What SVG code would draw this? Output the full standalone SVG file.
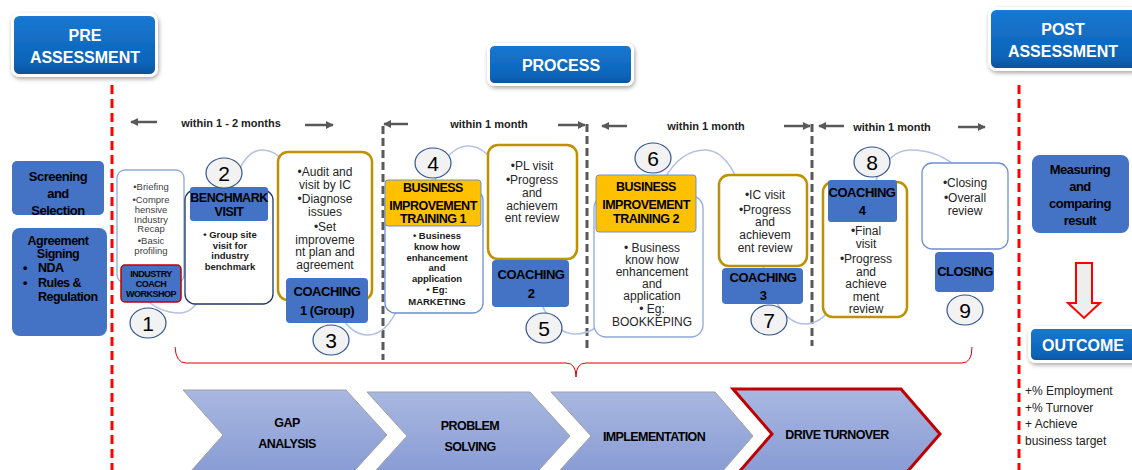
<svg xmlns="http://www.w3.org/2000/svg" width="1132" height="470" viewBox="0 0 1132 470">
<defs>
<linearGradient id="hdr" x1="0" y1="0" x2="0" y2="1"><stop offset="0" stop-color="#1B78D2"/><stop offset="0.8" stop-color="#0B64B8"/><stop offset="1" stop-color="#0A4F96"/></linearGradient>
<linearGradient id="chev" x1="0" y1="0" x2="0" y2="1"><stop offset="0" stop-color="#A9B8E1"/><stop offset="1" stop-color="#8599D3"/></linearGradient>
<filter id="sh" x="-10%" y="-10%" width="130%" height="140%"><feDropShadow dx="1" dy="2" stdDeviation="2" flood-color="#000" flood-opacity="0.35"/></filter>
<marker id="ah" viewBox="0 0 10 10" refX="9" refY="5" markerWidth="3.2" markerHeight="3.2" orient="auto"><path d="M0,0 L10,5 L0,10 Z" fill="#595959"/></marker>
<style>
text{font-family:"Liberation Sans",Arial,sans-serif;text-anchor:middle}
.hd{fill:#fff;font-size:16px;font-weight:bold}
.hbox{fill:url(#hdr);stroke:#fff;stroke-width:3}
.blue{fill:#4472C4}
.bt{font-weight:bold;fill:#000;letter-spacing:-0.5px}
.wt{fill:#fff;stroke:#8EA9DB;stroke-width:1.3}
.gold{fill:#fff;stroke:#BF9000;stroke-width:2.5}
.gh{fill:#FFC000;stroke:#6F8FCF;stroke-width:1}
.tx{fill:#262626;font-size:12px}
.sm{fill:#404040;font-size:9.5px}
.b9{fill:#1a1a1a;font-size:9.5px;font-weight:bold}
.num{fill:#F2F2F2;stroke:#2F528F;stroke-width:1.2}
.nt{font-size:21px;fill:#000}
.mo{font-size:11px;font-weight:bold;fill:#222}
.ar{stroke:#595959;stroke-width:2.5;fill:none;marker-end:url(#ah)}
.gd{stroke:#595959;stroke-width:3;stroke-dasharray:8 4;fill:none}
.rd{stroke:#FF0000;stroke-width:3;stroke-dasharray:9 5;fill:none}
.ch{fill:url(#chev);stroke:#A0A0A0;stroke-width:1}
.chr{fill:url(#chev);stroke:#C00000;stroke-width:3}
.ct{font-size:12.5px;font-weight:bold;fill:#000;letter-spacing:-0.6px}
</style>
</defs>
<rect width="1132" height="470" fill="#fff"/>

<g id="headers">
<g id="pre"><rect class="hbox" x="12.5" y="14.5" width="144" height="61" rx="7" filter="url(#sh)"/><text class="hd" x="85" y="41">PRE</text><text class="hd" x="85" y="63">ASSESSMENT</text></g>
<g id="process"><rect class="hbox" x="488.5" y="44.5" width="144" height="40" rx="6" filter="url(#sh)"/><text class="hd" x="561" y="71">PROCESS</text></g>
<g id="post"><rect class="hbox" x="989.5" y="8.5" width="150" height="61" rx="7" filter="url(#sh)"/><text class="hd" x="1063" y="35">POST</text><text class="hd" x="1063" y="57">ASSESSMENT</text></g>
</g>

<g id="connectors">
<line class="rd" x1="112" y1="85" x2="112" y2="470"/>
<line class="rd" x1="1019" y1="85" x2="1019" y2="470"/>
<line class="gd" x1="383" y1="126" x2="383" y2="360"/>
<line class="gd" x1="587" y1="124" x2="587" y2="348"/>
<line class="gd" x1="812" y1="124" x2="812" y2="346"/>
<line class="ar" x1="157" y1="122" x2="131" y2="122"/>
<line class="ar" x1="305" y1="125" x2="333" y2="125"/>
<line class="ar" x1="408" y1="124" x2="384" y2="124"/>
<line class="ar" x1="558" y1="125" x2="585" y2="125"/>
<line class="ar" x1="627" y1="126" x2="602" y2="126"/>
<line class="ar" x1="784" y1="126" x2="810" y2="126"/>
<line class="ar" x1="844" y1="126" x2="819" y2="126"/>
<line class="ar" x1="958" y1="127" x2="985" y2="127"/>
<path d="M140,295 C155,308 165,313 180,313 C225,313 217,150 262,150 C320,150 310,335 368,335 C423,335 413,146 468,146 C527,146 516,334 575,334 C647,334 633,150 705,150 C760,150 750,324 805,324 C863,324 852,150 910,150 C935,150 950,160 960,170" fill="none" stroke="#B4C2E6" stroke-width="1.6"/>
<path d="M175,347 Q176,363 186,363 L566,363 Q576,363 576,377 Q576,363 586,363 L962,363 Q972,363 972,347" fill="none" stroke="#E00000" stroke-width="1"/>
<path d="M1076,263 L1092,263 L1092,303 L1100,303 L1084,318 L1068,303 L1076,303 Z" fill="#EEEEEE" stroke="#FF0000" stroke-width="2"/>
</g>

<g id="timelabels">
<text class="mo" x="231" y="127">within 1 - 2 months</text>
<text class="mo" x="489" y="128">within 1 month</text>
<text class="mo" x="706" y="130">within 1 month</text>
<text class="mo" x="892" y="131">within 1 month</text>
</g>

<g id="screening"><rect class="blue" x="12" y="161" width="92" height="54" rx="5"/>
<text class="bt" font-size="13" x="58" y="181">Screening</text><text class="bt" font-size="13" x="58" y="198">and</text><text class="bt" font-size="13" x="58" y="215">Selection</text></g>
<g id="agreement"><rect class="blue" x="12" y="228" width="95" height="108" rx="8"/>
<text class="bt" font-size="12.5" x="58" y="245">Agreement</text><text class="bt" font-size="12.5" x="58" y="258">Signing</text>
<text class="bt" font-size="12.5" x="25" y="272">•</text><text class="bt" font-size="12.5" x="38" y="272" style="text-anchor:start">NDA</text>
<text class="bt" font-size="12.5" x="25" y="287">•</text><text class="bt" font-size="12.5" x="38" y="287" style="text-anchor:start">Rules &amp;</text>
<text class="bt" font-size="12.5" x="38" y="301" style="text-anchor:start">Regulation</text></g>

<g id="node1"><rect class="wt" x="117" y="170" width="67" height="113" rx="8"/>
<text class="sm" x="151" y="190">•Briefing</text><text class="sm" x="151" y="203">•Compre</text><text class="sm" x="151" y="213">hensive</text><text class="sm" x="151" y="223">Industry</text><text class="sm" x="151" y="232">Recap</text><text class="sm" x="151" y="244">•Basic</text><text class="sm" x="151" y="254">profiling</text>
<rect x="121" y="265" width="60" height="37" rx="4" fill="#4472C4" stroke="#C00000" stroke-width="1.5"/>
<text class="bt" font-size="9" x="151" y="277">INDUSTRY</text><text class="bt" font-size="9" x="151" y="287">COACH</text><text class="bt" font-size="9" x="151" y="297">WORKSHOP</text></g>

<g id="node2"><rect x="185" y="190" width="88" height="114" rx="10" fill="#fff" stroke="#1F3864" stroke-width="1.3"/>
<rect class="blue" x="190" y="187" width="78" height="34" rx="3"/>
<text class="bt" font-size="12.5" x="229" y="202">BENCHMARK</text><text class="bt" font-size="12.5" x="229" y="216">VISIT</text>
<text class="b9" font-size="10" x="230" y="238">• Group site</text><text class="b9" x="230" y="249">visit for</text><text class="b9" x="230" y="259">industry</text><text class="b9" x="230" y="270">benchmark</text></g>

<g id="node3"><rect class="gold" x="278" y="152" width="94" height="148" rx="10"/>
<text class="tx" x="325" y="176">•Audit and</text><text class="tx" x="325" y="189">visit by IC</text><text class="tx" x="325" y="203">•Diagnose</text><text class="tx" x="325" y="216">issues</text><text class="tx" x="325" y="231">•Set</text><text class="tx" x="325" y="244">improveme</text><text class="tx" x="325" y="256">nt plan and</text><text class="tx" x="325" y="269">agreement</text>
<rect class="blue" x="286" y="278" width="82" height="45" rx="4"/>
<text class="bt" font-size="13" x="327" y="296">COACHING</text><text class="bt" font-size="13" x="327" y="315">1 (Group)</text></g>

<g id="node4"><rect class="wt" x="385" y="190" width="98" height="123" rx="10" style="stroke:#6F8FCF"/>
<rect class="gh" x="385" y="180" width="96" height="46" rx="3"/>
<text class="bt" font-size="12.5" x="433" y="192">BUSINESS</text><text class="bt" font-size="12.5" x="433" y="210">IMPROVEMENT</text><text class="bt" font-size="12.5" x="433" y="223">TRAINING 1</text>
<text class="b9" x="437" y="239">•  Business</text><text class="b9" x="437" y="250">know how</text><text class="b9" x="437" y="261">enhancement</text><text class="b9" x="437" y="271">and</text><text class="b9" x="437" y="282">application</text><text class="b9" x="437" y="293">• Eg:</text><text class="b9" x="437" y="305">MARKETING</text></g>

<g id="node5"><rect class="gold" x="488" y="145" width="89" height="114" rx="10"/>
<text class="tx" x="532" y="170">•PL visit</text><text class="tx" x="532" y="184">•Progress</text><text class="tx" x="532" y="197">and</text><text class="tx" x="532" y="210">achievem</text><text class="tx" x="532" y="222">ent review</text>
<rect class="blue" x="492" y="260" width="77" height="47" rx="4"/>
<text class="bt" font-size="13" x="531" y="279">COACHING</text><text class="bt" font-size="13" x="531" y="298">2</text></g>

<g id="node6"><rect class="wt" x="594" y="196" width="109" height="141" rx="12"/>
<rect class="gh" x="596" y="175" width="100" height="57" rx="3"/>
<text class="bt" font-size="12.5" x="646" y="191">BUSINESS</text><text class="bt" font-size="12.5" x="646" y="209">IMPROVEMENT</text><text class="bt" font-size="12.5" x="646" y="223">TRAINING 2</text>
<text class="tx" font-size="11" x="652" y="252">• Business</text><text class="tx" font-size="11" x="652" y="264">know how</text><text class="tx" font-size="11" x="652" y="276">enhancement</text><text class="tx" font-size="11" x="652" y="288">and</text><text class="tx" font-size="11" x="652" y="300">application</text><text class="tx" font-size="11" x="652" y="313">• Eg:</text><text class="tx" font-size="11" x="652" y="326">BOOKKEPING</text></g>

<g id="node7"><rect class="gold" x="719" y="175" width="88" height="91" rx="10"/>
<text class="tx" x="765" y="199">•IC visit</text><text class="tx" x="765" y="214">•Progress</text><text class="tx" x="765" y="226">and</text><text class="tx" x="765" y="239">achievem</text><text class="tx" x="765" y="252">ent review</text>
<rect class="blue" x="722" y="268" width="81" height="36" rx="4"/>
<text class="bt" font-size="13" x="763" y="282">COACHING</text><text class="bt" font-size="13" x="763" y="300">3</text></g>

<g id="node8"><rect class="gold" x="823" y="182" width="84" height="135" rx="10"/>
<rect class="blue" x="828" y="180" width="69" height="42" rx="3"/>
<text class="bt" font-size="13" x="862" y="197">COACHING</text><text class="bt" font-size="13" x="862" y="215">4</text>
<text class="tx" x="866" y="235">•Final</text><text class="tx" x="866" y="248">visit</text><text class="tx" x="866" y="263">•Progress</text><text class="tx" x="866" y="276">and</text><text class="tx" x="866" y="288">achieve</text><text class="tx" x="866" y="301">ment</text><text class="tx" x="866" y="313">review</text></g>

<g id="node9"><rect class="wt" x="922" y="163" width="86" height="86" rx="10" style="stroke:#6F8FCF"/>
<text class="tx" x="965" y="187">•Closing</text><text class="tx" x="965" y="202">•Overall</text><text class="tx" x="965" y="215">review</text>
<rect class="blue" x="935" y="252" width="59" height="40" rx="4"/>
<text class="bt" font-size="13" x="965" y="276">CLOSING</text></g>

<g id="numbers">
<ellipse class="num" cx="148" cy="323" rx="18" ry="15"/><text class="nt" x="148" y="331">1</text>
<ellipse class="num" cx="224" cy="173" rx="18" ry="15"/><text class="nt" x="224" y="181">2</text>
<ellipse class="num" cx="331" cy="340" rx="18" ry="15"/><text class="nt" x="331" y="348">3</text>
<ellipse class="num" cx="433" cy="163" rx="18" ry="15"/><text class="nt" x="433" y="171">4</text>
<ellipse class="num" cx="544" cy="328" rx="18" ry="15"/><text class="nt" x="544" y="336">5</text>
<ellipse class="num" cx="653" cy="158" rx="18" ry="15"/><text class="nt" x="653" y="166">6</text>
<ellipse class="num" cx="769" cy="320" rx="18" ry="15"/><text class="nt" x="769" y="328">7</text>
<ellipse class="num" cx="872" cy="162" rx="18" ry="15"/><text class="nt" x="872" y="170">8</text>
<ellipse class="num" cx="965" cy="310" rx="18" ry="15"/><text class="nt" x="965" y="318">9</text>
</g>

<g id="measuring"><rect class="blue" x="1032" y="155" width="97" height="78" rx="8"/>
<text class="bt" font-size="13" x="1080" y="174">Measuring</text><text class="bt" font-size="13" x="1080" y="191">and</text><text class="bt" font-size="13" x="1080" y="208">comparing</text><text class="bt" font-size="13" x="1080" y="225">result</text></g>

<g id="outcome"><rect class="hbox" x="1029.5" y="327.5" width="110" height="34" rx="6" filter="url(#sh)"/><text class="hd" x="1083" y="351">OUTCOME</text>
<text style="text-anchor:start" font-size="12" fill="#222" x="1025" y="395">+% Employment</text>
<text style="text-anchor:start" font-size="12" fill="#222" x="1025" y="412">+% Turnover</text>
<text style="text-anchor:start" font-size="12" fill="#222" x="1025" y="428">+ Achieve</text>
<text style="text-anchor:start" font-size="12" fill="#222" x="1025" y="445">business target</text></g>

<g id="chevrons">
<g id="gap"><polygon class="ch" points="183,390 346,390 387,435 346,480 183,480 223,435"/><text class="ct" x="287" y="427">GAP</text><text class="ct" x="287" y="448">ANALYSIS</text></g>
<g id="problem"><polygon class="ch" points="367,392 530,392 570,436 530,480 367,480 407,436"/><text class="ct" x="470" y="430">PROBLEM</text><text class="ct" x="470" y="451">SOLVING</text></g>
<g id="impl"><polygon class="ch" points="551,392 715,392 753,436 715,480 551,480 591,436"/><text class="ct" x="654" y="441">IMPLEMENTATION</text></g>
<g id="drive"><polygon class="chr" points="733,389 901,389 940,434 901,479 733,479 772,434"/><text class="ct" x="837" y="439">DRIVE TURNOVER</text></g>
</g>
</svg>
